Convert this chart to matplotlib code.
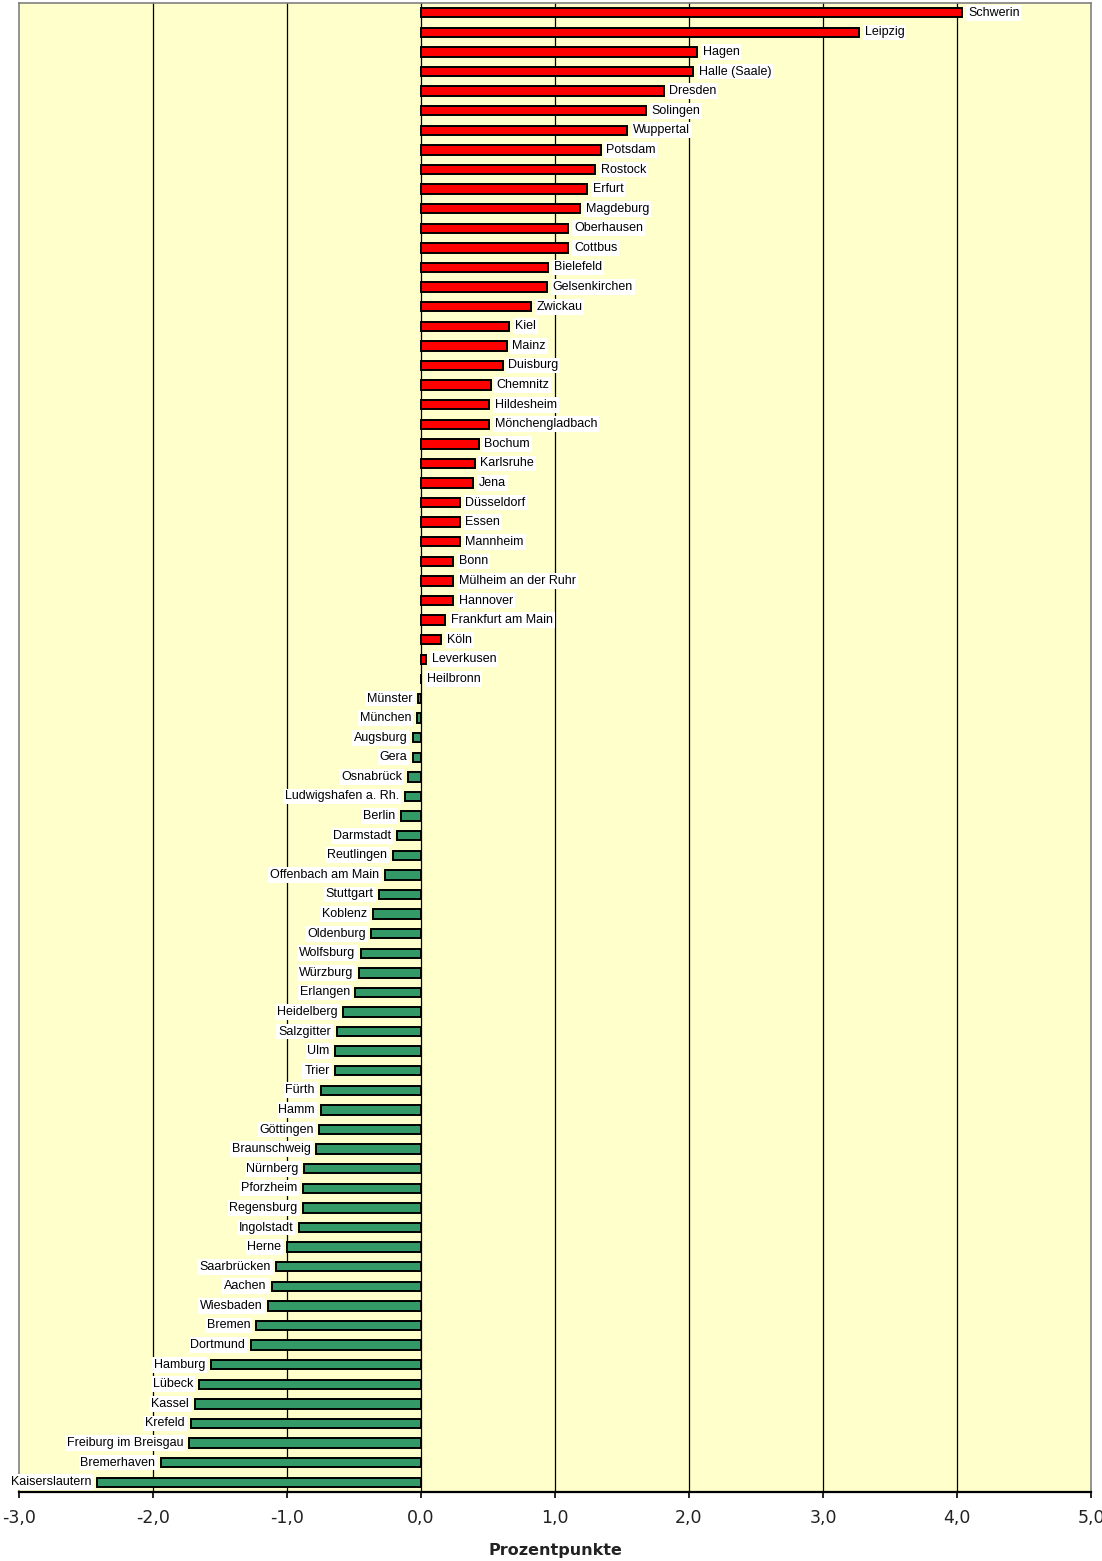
import numpy as np
import matplotlib
matplotlib.use("Agg")
import matplotlib.pyplot as plt
from matplotlib.ticker import FuncFormatter

## Data: change in percentage points per city (top to bottom)
cities = ["Schwerin", "Leipzig", "Hagen", "Halle (Saale)", "Dresden", "Solingen", "Wuppertal",
          "Potsdam", "Rostock", "Erfurt", "Magdeburg", "Oberhausen", "Cottbus", "Bielefeld",
          "Gelsenkirchen", "Zwickau", "Kiel", "Mainz", "Duisburg", "Chemnitz", "Hildesheim",
          "Mönchengladbach", "Bochum", "Karlsruhe", "Jena", "Düsseldorf", "Essen", "Mannheim",
          "Bonn", "Mülheim an der Ruhr", "Hannover", "Frankfurt am Main", "Köln", "Leverkusen",
          "Heilbronn", "Münster", "München", "Augsburg", "Gera", "Osnabrück",
          "Ludwigshafen a. Rh.", "Berlin", "Darmstadt", "Reutlingen", "Offenbach am Main",
          "Stuttgart", "Koblenz", "Oldenburg", "Wolfsburg", "Würzburg", "Erlangen",
          "Heidelberg", "Salzgitter", "Ulm", "Trier", "Fürth", "Hamm", "Göttingen",
          "Braunschweig", "Nürnberg", "Pforzheim", "Regensburg", "Ingolstadt", "Herne",
          "Saarbrücken", "Aachen", "Wiesbaden", "Bremen", "Dortmund", "Hamburg", "Lübeck",
          "Kassel", "Krefeld", "Freiburg im Breisgau", "Bremerhaven", "Kaiserslautern"]

values = [4.04, 3.27, 2.06, 2.03, 1.81, 1.68, 1.54,
          1.34, 1.30, 1.24, 1.19, 1.10, 1.10, 0.95,
          0.94, 0.82, 0.66, 0.64, 0.61, 0.52, 0.51,
          0.51, 0.43, 0.40, 0.39, 0.29, 0.29, 0.29,
          0.24, 0.24, 0.24, 0.18, 0.15, 0.04,
          0.00, -0.02, -0.03, -0.06, -0.06, -0.10,
          -0.12, -0.15, -0.18, -0.21, -0.27,
          -0.31, -0.36, -0.37, -0.45, -0.46, -0.49,
          -0.58, -0.63, -0.64, -0.64, -0.75, -0.75, -0.76,
          -0.78, -0.87, -0.88, -0.88, -0.91, -1.00,
          -1.08, -1.11, -1.14, -1.23, -1.27, -1.57, -1.66,
          -1.69, -1.72, -1.73, -1.94, -2.42]

x_ticks = [-3, -2, -1, 0, 1, 2, 3, 4, 5]

RED = "#FF0000"
GREEN = "#339966"

fig = plt.figure(figsize=(11.02, 15.61), dpi=100)
ax = fig.add_axes([19 / 1102, 69 / 1561, 1072 / 1102, 1489 / 1561])
ax.set_facecolor("#FFFFCC")

y = np.arange(len(cities))
colors = [RED if v >= 0 else GREEN for v in values]
ax.barh(y, values, height=0.48, color=colors, edgecolor="black", linewidth=1.4, zorder=3)

# vertical grid lines
for t in x_ticks[1:-1]:
    ax.axvline(t, color="black", linewidth=0.9, zorder=1)

# city labels next to bar ends
for yi, (name, v) in enumerate(zip(cities, values)):
    if v >= 0:
        ax.annotate(name, (v, yi), xytext=(4, 0), textcoords="offset points",
                    ha="left", va="center", fontsize=9, family="Liberation Sans",
                    bbox=dict(boxstyle="square,pad=0.15", fc="white", ec="none"), zorder=4)
    else:
        ax.annotate(name, (v, yi), xytext=(-4, 0), textcoords="offset points",
                    ha="right", va="center", fontsize=9, family="Liberation Sans",
                    bbox=dict(boxstyle="square,pad=0.15", fc="white", ec="none"), zorder=4)

ax.set_xlim(-3, 5)
ax.set_ylim(len(cities) - 0.5, -0.5)
ax.set_xticks(x_ticks)
ax.xaxis.set_major_formatter(FuncFormatter(lambda v, p: ("%.1f" % v).replace(".", ",")))
ax.set_yticks([])
ax.tick_params(axis="x", direction="out", length=4, width=1.2, colors="black",
               labelsize=12.5, pad=8, labelcolor="#222222")

for s in ["top", "right", "left"]:
    ax.spines[s].set_color("#808080")
    ax.spines[s].set_linewidth(1.2)
ax.spines["bottom"].set_color("black")
ax.spines["bottom"].set_linewidth(1.6)

ax.set_xlabel("Prozentpunkte", fontsize=11.5, fontweight="bold", labelpad=12, color="#222222")

fig.savefig("out.png", dpi=100)
